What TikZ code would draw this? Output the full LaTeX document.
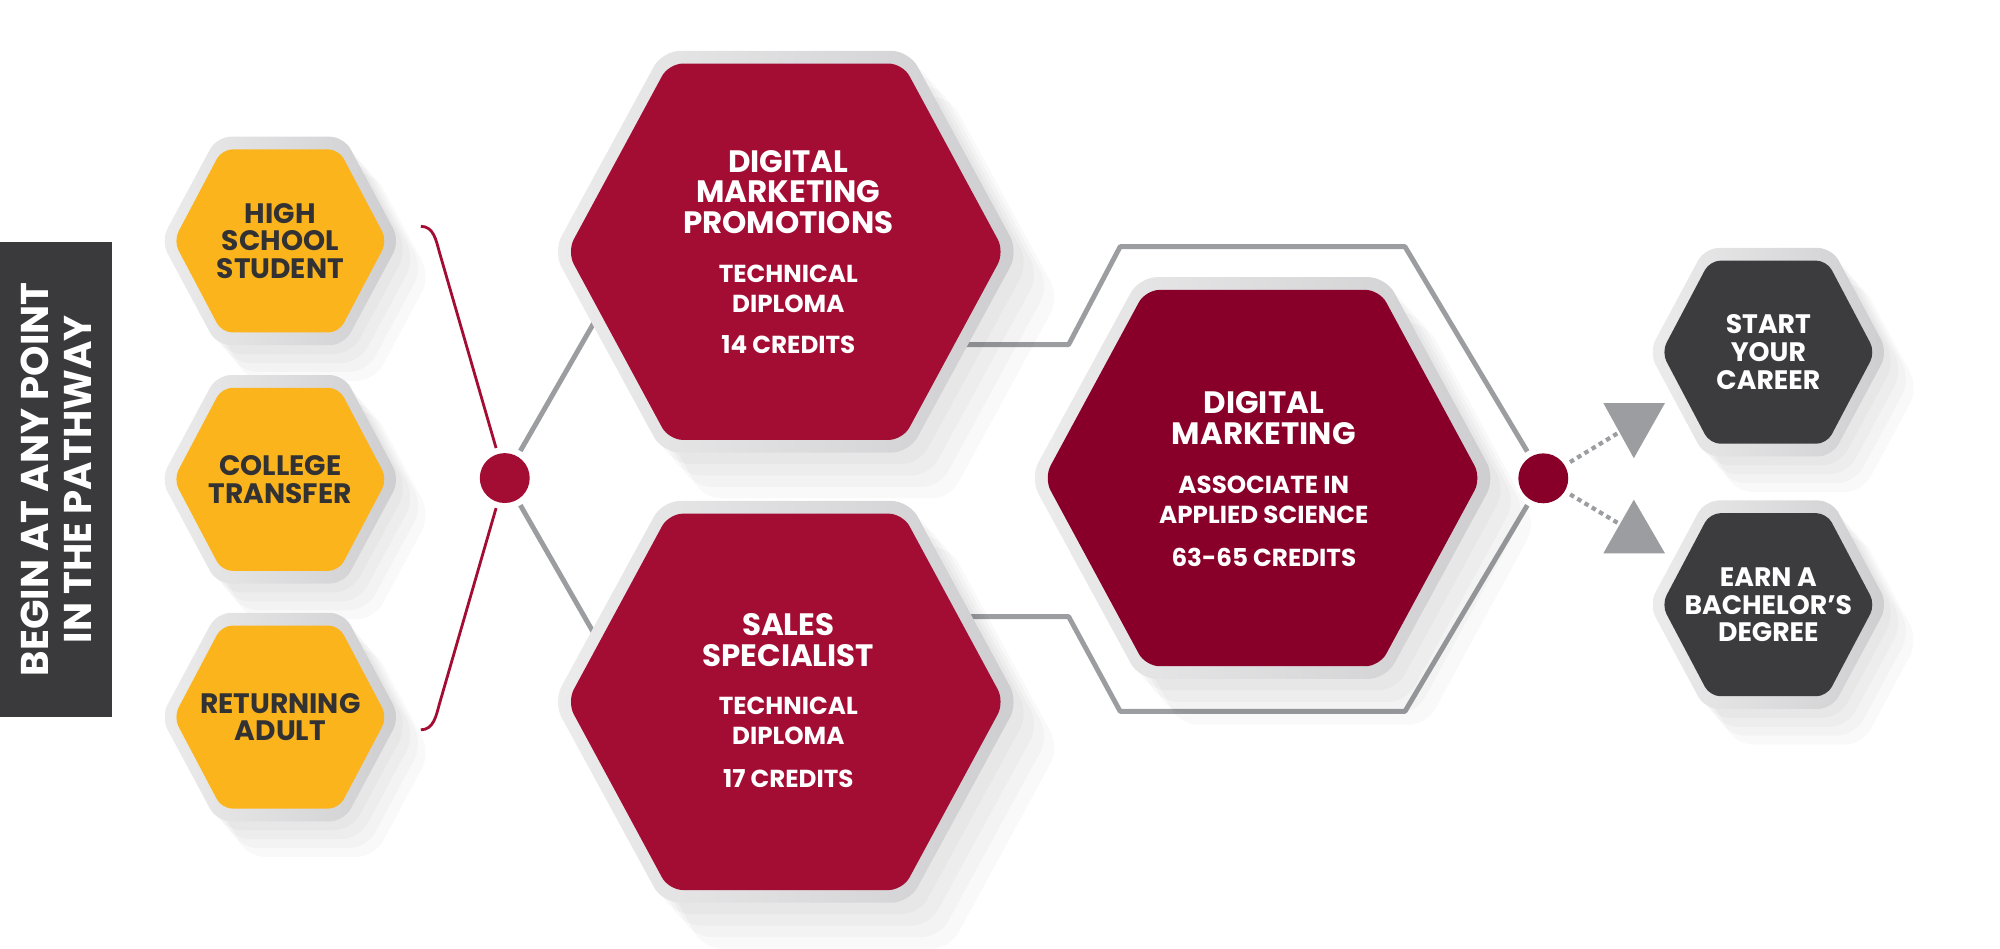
\documentclass[tikz,border=0pt]{standalone}
\usepackage{fontspec}
\setmainfont{Poppins}
\usetikzlibrary{positioning, calc}
\definecolor{hexyellow}{RGB}{251, 180, 28}
\definecolor{hexred}{RGB}{163, 13, 52}
\definecolor{hexwine}{RGB}{136, 0, 41}
\definecolor{hexdark}{RGB}{60, 60, 62}
\definecolor{boxdark}{RGB}{58, 58, 60}
\definecolor{linkgray}{RGB}{155, 157, 160}
\definecolor{ringlight}{RGB}{236, 236, 237}
\definecolor{ringdark}{RGB}{206, 206, 208}
\definecolor{textdark}{RGB}{50, 50, 52}
\newcommand{\subsz}{\fontsize{7}{8.7}\selectfont}
\tikzset{
  hexpath/.style n args={3}{insert path={({-#1},0) -- ({-#2},{-#3}) -- (#2,{-#3}) -- (#1,0) -- (#2,#3) -- ({-#2},#3) -- cycle}},
  hexshadow/.style={black, opacity=.022, rounded corners=5pt},
  pics/smalltile/.style={code={
    \fill[hexshadow, shift={(24,28)}, hexpath={94}{50}{82}];
    \fill[hexshadow, shift={(18,21)}, hexpath={94}{50}{82}];
    \fill[hexshadow, shift={(12,14)}, hexpath={94}{50}{82}];
    \fill[hexshadow, shift={(6,7)}, hexpath={94}{50}{82}];
    \shade[left color=ringlight, right color=ringdark, rounded corners=4pt, hexpath={94}{50}{82}];
    \fill[#1, rounded corners=3pt, hexpath={84}{46}{72}];
  }},
  pics/bigtile/.style={code={
    \fill[hexshadow, shift={(32,36)}, hexpath={183}{97}{158}];
    \fill[hexshadow, shift={(24,27)}, hexpath={183}{97}{158}];
    \fill[hexshadow, shift={(16,18)}, hexpath={183}{97}{158}];
    \fill[hexshadow, shift={(8,9)}, hexpath={183}{97}{158}];
    \shade[left color=ringlight, right color=ringdark, rounded corners=5pt, hexpath={183}{97}{158}];
    \fill[#1, rounded corners=4pt, hexpath={172}{92}{148}];
  }}
}

\begin{document}
\begin{tikzpicture}[
  x=0.12715mm, y=-0.12715mm,
  link/.style={linkgray, line width=1.4pt},
  dotlink/.style={linkgray, line width=1.2pt, dash pattern=on 1.3pt off 1.1pt},
  bracket/.style={hexred, line width=0.8pt},
  dot/.style={circle, inner sep=0pt, minimum size=14.2pt, outer sep=1.8pt},
  yelltxt/.style={align=center, text=textdark, font=\fontsize{8}{7.9}\selectfont\bfseries},
  bigtxt/.style={align=center, text=white, font=\fontsize{8.8}{8.7}\selectfont\bfseries},
  darktxt/.style={align=center, text=white, font=\fontsize{7.6}{7.9}\selectfont\bfseries}
]
  \useasboundingbox (0,0) rectangle (1573,746);

  % side label
  \node[fill=boxdark, rotate=90, minimum width=47.55mm, minimum height=11.19mm, align=center,
        text=white, font=\fontsize{11}{12.3}\selectfont\bfseries] (begin) at (44.3,377)
        {BEGIN AT ANY POINT\\IN THE PATHWAY};

  % junction dots
  \node[dot, fill=hexred] (dotA) at (397,376) {};
  \node[dot, fill=hexwine] (dotB) at (1213.8,376.2) {};

  % connectors
  \draw[bracket] (331,178) .. controls (341,178) and (343,189) .. (345.5,198) -- (dotA);
  \draw[bracket] (331,574) .. controls (341,574) and (343,563) .. (345.5,554) -- (dotA);
  \draw[link] (dotA) -- (490,214);
  \draw[link] (dotA) -- (490,538);
  \draw[link, line join=round] (750,271) -- (840.5,271) -- (881,194) -- (1105,194) -- (dotB);
  \draw[link, line join=round] (750,485) -- (840.5,485) -- (881,559.5) -- (1105,559.5) -- (dotB);

  \coordinate (upEdge) at (1273.5,340);
  \coordinate (dnEdge) at (1273.5,412);
  \draw[dotlink] (dotB) -- (upEdge);
  \draw[dotlink] (dotB) -- (dnEdge);
  \fill[linkgray] (1261,317) -- (1309.5,317) -- (1285,360.4) -- cycle;
  \fill[linkgray] (1285,393) -- (1309.5,435.2) -- (1261,435.2) -- cycle;

  % entry points
  \pic at (220.5,189.5) {smalltile=hexyellow};
  \pic at (220.5,377) {smalltile=hexyellow};
  \pic at (220.5,564) {smalltile=hexyellow};
  \node[yelltxt] (high) at (220.5,189.5) {HIGH\\SCHOOL\\STUDENT};
  \node[yelltxt] (transfer) at (220.5,377) {COLLEGE\\TRANSFER};
  \node[yelltxt] (adult) at (220.5,564) {RETURNING\\ADULT};

  % programs
  \pic at (618,198) {bigtile=hexred};
  \pic at (618,552) {bigtile=hexred};
  \pic at (993,376) {bigtile=hexwine};
  \node[bigtxt] (promo) at (620,198) {DIGITAL\\MARKETING\\PROMOTIONS\\[5.2pt]\subsz TECHNICAL\\\subsz DIPLOMA\\[2.8pt]\subsz 14 CREDITS};
  \node[bigtxt] (sales) at (620,551) {SALES\\SPECIALIST\\[5pt]\subsz TECHNICAL\\\subsz DIPLOMA\\[3.4pt]\subsz 17 CREDITS};
  \node[bigtxt] (assoc) at (994,377) {DIGITAL\\MARKETING\\[5.2pt]\subsz ASSOCIATE IN\\\subsz APPLIED SCIENCE\\[3.4pt]\subsz 63-65 CREDITS};

  % outcomes
  \pic at (1390.8,277) {smalltile=hexdark};
  \pic at (1390.8,475.6) {smalltile=hexdark};
  \node[darktxt] (career) at (1390.8,277) {START\\YOUR\\CAREER};
  \node[darktxt] (bachelor) at (1390.8,475.6) {EARN A\\BACHELOR’S\\DEGREE};
\end{tikzpicture}
\end{document}
